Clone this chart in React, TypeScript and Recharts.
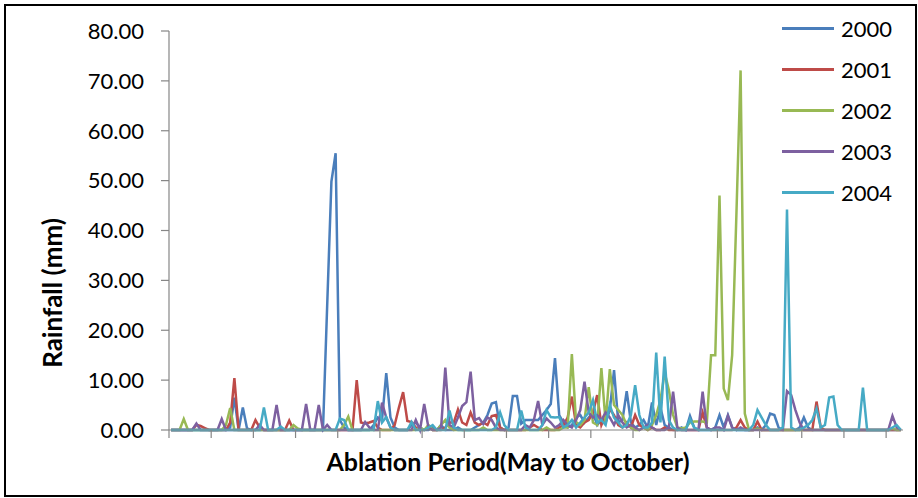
import React from 'react';
import { LineChart, Line, XAxis, YAxis, Label } from 'recharts';

// daily rainfall (mm) across the ablation season, one value per day
const rain2000 = [
  0, 0, 0, 0, 0, 0, 0, 0, 0, 0,
  0, 0, 0, 0, 0.5, 6.5, 0, 4.5, 0.3, 0,
  0, 0, 0, 0, 0, 0, 0, 0, 0, 0,
  0, 0, 0, 0, 0, 0, 0, 25, 49.8, 55.5,
  2, 0.5, 0, 0, 0, 0, 0, 0, 1.0, 2.5,
  2.0, 11.4, 2.5, 0.5, 0, 0, 0, 1.0, 1.5, 0.5,
  0, 0, 0.5, 0, 1.0, 0, 0, 0, 0.5, 0,
  0, 0, 0.5, 1.0, 1.5, 3.0, 5.3, 5.6, 0.5, 0,
  0.5, 6.8, 6.8, 1.3, 2.0, 2.0, 2.0, 2.0, 3.0, 4.0,
  5.2, 14.4, 3.0, 1.5, 0.5, 1.0, 2.5, 3.0, 1.5, 2.5,
  3.5, 1.0, 2.0, 1.5, 4.0, 12.0, 1.5, 2.0, 7.8, 1.5,
  0.5, 1.0, 2.0, 0.5, 5.5, 1.0, 4.5, 1.0, 0.5, 0,
  0, 0.5, 0, 2.8, 0.5, 0, 0, 0, 0, 0.5,
  3.0, 0.5, 3.0, 0.5, 0, 0, 0, 0, 0, 0.5,
  0, 1.0, 3.3, 3.0, 0.5, 0, 0, 0, 0, 0.5,
  2.5, 0.5, 0, 0, 0, 0, 0, 0, 0, 0,
  0, 0, 0, 0, 0, 0, 0, 0, 0, 0,
  0, 0, 0, 0,
];

const rain2001 = [
  0, 0, 0, 0, 0, 0, 1.0, 0.8, 0.4, 0,
  0, 0, 0, 0, 1.5, 10.4, 0, 0, 0, 0,
  2.0, 0.5, 0, 0, 0, 0, 0, 0, 1.9, 0,
  0, 0, 0, 0, 0, 0, 0, 0, 0, 0,
  0, 0, 0, 0, 10.0, 1.5, 1.3, 1.5, 1.8, 0.5,
  0, 0, 0, 1.0, 4.5, 7.6, 1.8, 1.6, 0.5, 0,
  0, 0.5, 0, 0, 0, 0.5, 1.5, 1.5, 4.1, 1.5,
  1.0, 3.5, 1.5, 1.0, 1.5, 1.0, 2.8, 3.0, 0.5, 0,
  0, 0, 0, 0, 0, 0.5, 1.0, 0.5, 0, 0,
  0, 0, 0.5, 1.0, 2.5, 6.7, 1.0, 0.5, 1.5, 2.0,
  3.5, 7.0, 1.0, 3.0, 4.2, 3.0, 1.0, 0.5, 1.5, 0.5,
  3.0, 1.0, 0.5, 0, 0.5, 0, 0, 0.5, 0, 0,
  0, 0, 0, 0, 0, 0, 3.5, 0.5, 0, 0,
  0, 0, 0, 0, 0.5, 2.0, 0.5, 0, 0, 1.7,
  0, 0, 0, 0, 0, 0, 0, 0, 0, 0,
  0, 0, 0, 5.7, 0.5, 0, 0, 0, 0, 0,
  0, 0, 0, 0, 0, 0, 0, 0, 0, 0,
  0, 0, 0, 0,
];

const rain2002 = [
  0, 0, 0, 2.2, 0, 0, 0, 0, 0, 0,
  0, 0, 0, 1.0, 4.4, 0, 0, 0, 0, 0,
  0, 0, 0, 0, 0, 0, 0, 0, 0, 1.0,
  0.3, 0, 0, 0, 0, 0, 0, 0, 0, 0,
  0, 1.0, 2.7, 0, 0, 0, 0, 0, 0, 0,
  0, 0, 0, 0, 0, 0, 0, 0, 0, 0.5,
  0, 1.0, 0, 0, 1.0, 2.0, 0.5, 0, 0, 0,
  0, 0, 0, 0, 0.5, 0, 0, 0, 0, 0,
  0, 0, 0, 0, 0, 0, 0, 0, 0, 0.5,
  0, 0, 0, 0.5, 0.5, 15.2, 1.6, 1.0, 2.0, 8.6,
  1.5, 1.0, 12.4, 1.5, 12.2, 5.0, 4.0, 3.0, 1.0, 0.5,
  0, 0, 0.5, 0, 1.0, 3.0, 6.0, 11.5, 8.0, 3.0,
  0.5, 0.3, 0.5, 1.5, 1.7, 1.7, 1.7, 1.5, 15.0, 15.0,
  47.0, 8.3, 6.0, 15.0, 43.0, 72.1, 3.3, 0, 0, 0.3,
  0, 0, 0, 0, 0, 0, 0, 0, 0, 0,
  0, 0, 0, 0, 0, 0, 0, 0, 0, 0,
  0, 0, 0, 0, 0, 0, 0, 0, 0, 0,
  0, 0.3, 0, 0,
];

const rain2003 = [
  0, 0, 0, 0, 0, 0, 1.3, 0, 0, 0,
  0, 0, 2.2, 0, 0, 0, 0, 0, 0, 0,
  0, 1.0, 0, 0, 0, 5.0, 0, 0, 0, 0,
  0, 0, 5.2, 0, 0, 5.0, 0, 1.0, 0, 0,
  0, 0, 0, 0, 0, 0, 1.6, 0.5, 0, 0,
  5.5, 2.5, 0.5, 0, 0, 0, 0, 0, 2.0, 0,
  5.2, 0.5, 0, 0, 0.5, 12.5, 1.0, 0.5, 2.5, 4.8,
  5.6, 11.7, 2.0, 2.4, 1.2, 2.5, 2.0, 0.5, 0, 0,
  0, 0, 0, 0, 1.0, 0.5, 2.0, 5.8, 1.0, 2.3,
  1.5, 0.5, 1.0, 2.0, 1.0, 0.5, 2.0, 4.0, 9.7, 3.5,
  2.5, 3.0, 2.0, 3.5, 2.5, 1.0, 3.0, 1.5, 0.5, 1.0,
  0.5, 0, 0.5, 1.0, 0.5, 0, 0, 0, 0.5, 7.7,
  0.5, 0, 0, 0, 0, 0, 7.7, 0.5, 0, 0.5,
  0.5, 0, 2.8, 0.5, 0, 0.5, 0, 0, 0, 0,
  0, 0, 0, 0, 0, 0, 7.8, 7.0, 4.0, 1.5,
  0, 0, 0, 0, 0, 0, 0, 0, 0, 0,
  0, 0, 0, 0, 0, 0, 0, 0, 0, 0,
  0, 2.8, 0.5, 0,
];

const rain2004 = [
  0, 0, 0, 0, 0, 0, 0, 0, 0, 0,
  0, 0, 0, 0, 0, 0, 0, 0, 0, 0,
  0, 0, 4.5, 0, 0, 0, 0.7, 0, 0, 0,
  0, 0, 0, 0, 0, 0, 0, 0, 0, 0,
  2.3, 2.0, 0, 0, 0, 0, 0, 0, 0, 5.8,
  1.5, 2.6, 0.5, 0, 0, 0, 0, 1.6, 0, 0,
  0, 0.5, 1.0, 0, 0, 0, 3.9, 0.5, 0, 0,
  0, 0, 0, 0, 0, 0, 0, 0.5, 3.5, 1.0,
  0, 0, 0, 3.9, 0.5, 0, 0, 0, 1.0, 4.0,
  2.6, 2.5, 2.6, 0.5, 1.0, 2.0, 0.5, 1.5, 2.5, 3.5,
  6.0, 1.5, 2.0, 1.0, 5.0, 2.5, 1.5, 0.5, 1.0, 3.0,
  9.0, 3.0, 0.5, 0.5, 1.5, 15.5, 1.5, 14.7, 2.0, 0.5,
  0, 0, 0, 2.2, 0.5, 0, 0, 0, 0, 0,
  0, 0, 0, 0, 0, 0, 0, 0, 1.0, 4.0,
  2.5, 1.0, 0, 0, 0, 0.5, 44.2, 0.5, 0, 0,
  0.5, 1.0, 2.0, 4.3, 0.5, 1.0, 6.5, 6.7, 1.0, 0,
  0, 0, 0, 0, 8.5, 0, 0, 0, 0, 0,
  0, 0.5, 1.0, 0,
];

const seriesNames = ['2000', '2001', '2002', '2003', '2004'];
const seriesColors = ['#4A7EBB', '#BE4B48', '#98B954', '#7D60A0', '#46AAC5'];
const seriesValues = [rain2000, rain2001, rain2002, rain2003, rain2004];

const yTicks = [0, 10, 20, 30, 40, 50, 60, 70, 80];
const dayTicks = [0, 10, 20, 30, 40, 50, 60, 70, 80, 90, 100, 110, 120, 130, 140, 150, 160, 170];
const dayCount = rain2000.length;

// one row per day, each point sits in the middle of its day slot
const rows = rain2000.map((_, i) => {
  const row: Record<string, number> = { day: i + 0.5 };
  seriesNames.forEach((name, s) => {
    row[name] = seriesValues[s][i];
  });
  return row;
});

const FONT = 'Lato, "Open Sans", sans-serif';
const AXIS_GREY = '#868686';

export default function App() {
  return (
    <div style={{ position: 'absolute', left: 0, top: 0, width: 918, height: 498, background: '#fff' }}>
      <div
        style={{
          position: 'absolute',
          left: 4,
          top: 4,
          width: 913,
          height: 493,
          boxSizing: 'border-box',
          border: '2.5px solid #000',
        }}
      />
      <LineChart
        width={918}
        height={498}
        data={rows}
        margin={{ top: 31, right: 15, bottom: 0, left: 0 }}
        style={{ fontFamily: FONT }}
      >
        <XAxis
          dataKey="day"
          type="number"
          domain={[0, dayCount]}
          ticks={dayTicks}
          tickFormatter={() => ''}
          tickSize={8}
          height={68}
          stroke={AXIS_GREY}
          axisLine={{ stroke: AXIS_GREY, strokeWidth: 1.2 }}
          tickLine={{ stroke: AXIS_GREY, strokeWidth: 1.2 }}
        >
          <Label
            content={() => (
              <text
                x={508}
                y={471}
                textAnchor="middle"
                fontFamily={FONT}
                fontWeight="bold"
                fontSize={25}
                fill="#000"
              >
                Ablation Period(May to October)
              </text>
            )}
          />
        </XAxis>
        <YAxis
          domain={[0, 80]}
          ticks={yTicks}
          width={169}
          tickSize={8}
          tickMargin={17}
          tickFormatter={(v: number) => v.toFixed(2)}
          tick={{ fill: '#000', fontSize: 22, fontFamily: FONT }}
          axisLine={{ stroke: AXIS_GREY, strokeWidth: 1.2 }}
          tickLine={{ stroke: AXIS_GREY, strokeWidth: 1.2 }}
        >
          <Label
            content={() => (
              <text
                x={52}
                y={293}
                transform="rotate(-90 52 293)"
                textAnchor="middle"
                dominantBaseline="central"
                fontFamily={FONT}
                fontWeight="bold"
                fontSize={26}
                fill="#000"
              >
                Rainfall (mm)
              </text>
            )}
          />
        </YAxis>
        {seriesNames.map((name, s) => (
          <Line
            key={name}
            dataKey={name}
            type="linear"
            stroke={seriesColors[s]}
            strokeWidth={2.5}
            dot={false}
            activeDot={false}
            isAnimationActive={false}
          />
        ))}
      </LineChart>
      <div style={{ position: 'absolute', left: 782, top: 8, fontFamily: FONT }}>
        {seriesNames.map((name, s) => (
          <div key={name} style={{ display: 'flex', alignItems: 'center', height: 41 }}>
            <div style={{ width: 52, height: 3, background: seriesColors[s] }} />
            <span style={{ marginLeft: 7, fontSize: 22, color: '#000' }}>{name}</span>
          </div>
        ))}
      </div>
    </div>
  );
}
